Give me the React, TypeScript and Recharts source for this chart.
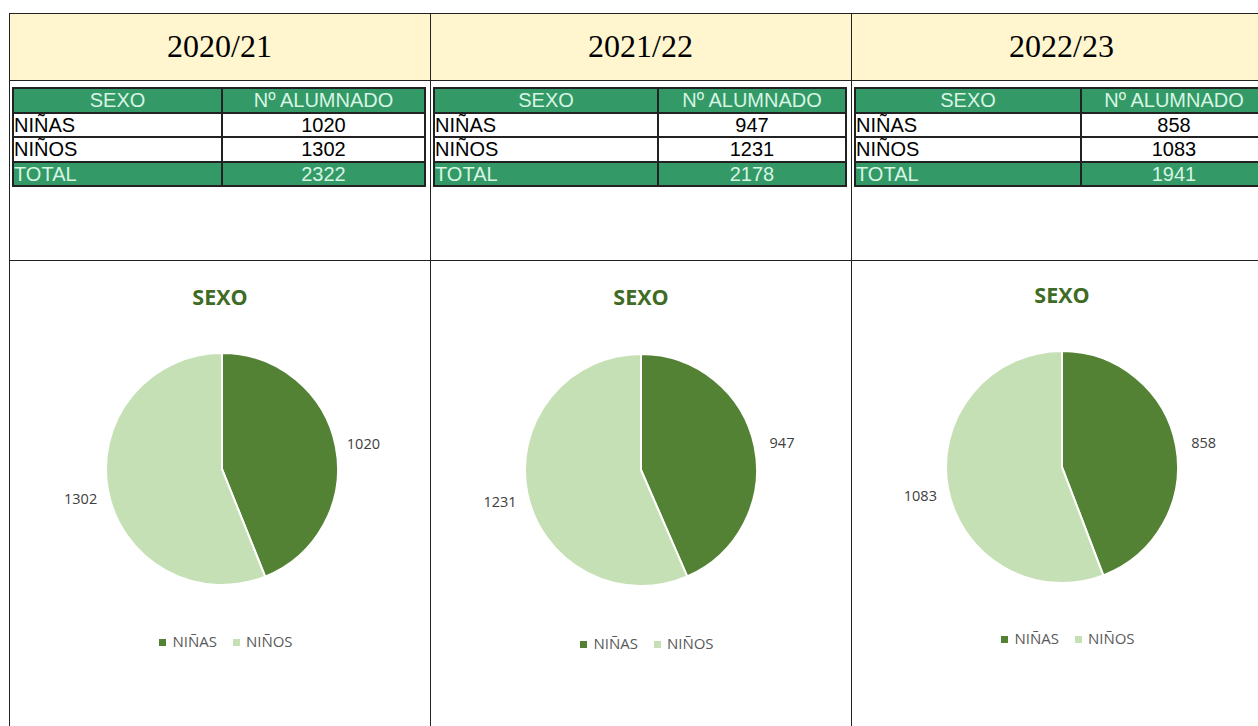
import { PieChart, Pie, Cell, Legend } from "recharts";

const years = ["2020/21", "2021/22", "2022/23"];
const sexLabels = ["NIÑAS", "NIÑOS"];
const ninas = [1020, 947, 858];
const ninos = [1302, 1231, 1083];
const totals = [2322, 2178, 1941];

const pieColors = ["#548235", "#C5E0B4"];
const cellLeft = [9, 430, 851];
const firstColWidth = [207, 222, 224];
const pieCenters = [
  { cx: 212, cy: 208 },
  { cx: 210, cy: 209 },
  { cx: 210, cy: 206 },
];
const legendTops = [370, 372, 367];
const titleTops = [282, 282, 280];

const RAD = Math.PI / 180;

const renderLabel = (props: any) => {
  const { cx, cy, midAngle, outerRadius, value } = props;
  const r = outerRadius + 28;
  const x = cx + r * Math.cos(-midAngle * RAD);
  const y = cy + r * Math.sin(-midAngle * RAD) + 2;
  return (
    <text
      x={x}
      y={y}
      textAnchor="middle"
      dominantBaseline="central"
      fill="#404040"
      fontSize={14.5}
      fontFamily="'Open Sans', sans-serif"
    >
      {value}
    </text>
  );
};

const cellStyle = {
  border: "2px solid #222",
  padding: 0,
  height: 22.5,
  lineHeight: "22px",
};

function SexTable({ i }: { i: number }) {
  const rows = [
    { name: sexLabels[0], value: ninas[i] },
    { name: sexLabels[1], value: ninos[i] },
  ];
  return (
    <table
      style={{
        position: "absolute",
        left: cellLeft[i] + 3,
        top: 87,
        width: 414,
        borderCollapse: "collapse",
        fontFamily: "'Liberation Sans', Arial, sans-serif",
        fontSize: 20,
      }}
    >
      <tbody>
        <tr style={{ background: "#339966", color: "#D8F5E4" }}>
          <td style={{ ...cellStyle, width: firstColWidth[i], textAlign: "center" }}>SEXO</td>
          <td style={{ ...cellStyle, textAlign: "center" }}>Nº ALUMNADO</td>
        </tr>
        {rows.map((r) => (
          <tr key={r.name} style={{ background: "#fff", color: "#000" }}>
            <td style={{ ...cellStyle, textAlign: "left" }}>{r.name}</td>
            <td style={{ ...cellStyle, textAlign: "center" }}>{r.value}</td>
          </tr>
        ))}
        <tr style={{ background: "#339966", color: "#D8F5E4" }}>
          <td style={{ ...cellStyle, textAlign: "left" }}>TOTAL</td>
          <td style={{ ...cellStyle, textAlign: "center" }}>{totals[i]}</td>
        </tr>
      </tbody>
    </table>
  );
}

function SexPie({ i }: { i: number }) {
  const data = [
    { name: sexLabels[0], value: ninas[i] },
    { name: sexLabels[1], value: ninos[i] },
  ];
  return (
    <div style={{ position: "absolute", left: cellLeft[i] + 1, top: 261, width: 420, height: 466 }}>
      <div
        style={{
          position: "absolute",
          top: titleTops[i] - 261,
          width: 420,
          left: 0,
          textAlign: "center",
          fontFamily: "'Open Sans', sans-serif",
          fontWeight: 700,
          fontSize: 21.5,
          color: "#3F6B25",
        }}
      >
        SEXO
      </div>
      <PieChart width={420} height={466} margin={{ top: 0, right: 0, bottom: 0, left: 0 }}>
        <Pie
          data={data}
          dataKey="value"
          nameKey="name"
          cx={pieCenters[i].cx}
          cy={pieCenters[i].cy}
          outerRadius={116}
          startAngle={90}
          endAngle={-270}
          stroke="#fff"
          strokeWidth={2}
          label={renderLabel}
          labelLine={false}
          isAnimationActive={false}
        >
          {data.map((d, k) => (
            <Cell key={d.name} fill={pieColors[k]} />
          ))}
        </Pie>
        <Legend
          iconType="square"
          iconSize={7}
          verticalAlign="bottom"
          wrapperStyle={{
            top: legendTops[i],
            bottom: "auto",
            left: 14,
            width: 420,
            fontFamily: "'Open Sans', sans-serif",
            fontSize: 15,
          }}
          formatter={(v: string) => (
            <span style={{ color: "#595959", marginLeft: 2, marginRight: 6 }}>{v}</span>
          )}
        />
      </PieChart>
    </div>
  );
}

export default function App() {
  const line = "#222";
  return (
    <div style={{ position: "absolute", left: 0, top: 0, width: 1258, height: 726, overflow: "hidden", background: "#fff" }}>
      {/* header band */}
      <div style={{ position: "absolute", left: 9, top: 13, width: 1260, height: 67, background: "#FFF5CF" }} />
      {years.map((y, i) => (
        <div
          key={y}
          style={{
            position: "absolute",
            left: cellLeft[i],
            top: 13,
            width: 421,
            height: 67,
            lineHeight: "67px",
            textAlign: "center",
            fontFamily: "'Liberation Serif', serif",
            fontSize: 32,
            color: "#000",
          }}
        >
          {y}
        </div>
      ))}
      {/* grid lines */}
      <div style={{ position: "absolute", left: 9, top: 13, width: 1260, height: 1, background: line }} />
      <div style={{ position: "absolute", left: 9, top: 80, width: 1260, height: 1, background: line }} />
      <div style={{ position: "absolute", left: 9, top: 260, width: 1260, height: 1, background: line }} />
      {cellLeft.map((x) => (
        <div key={x} style={{ position: "absolute", left: x, top: 13, width: 1, height: 720, background: line }} />
      ))}
      {years.map((y, i) => (
        <SexTable key={"t" + y} i={i} />
      ))}
      {years.map((y, i) => (
        <SexPie key={"p" + y} i={i} />
      ))}
    </div>
  );
}
